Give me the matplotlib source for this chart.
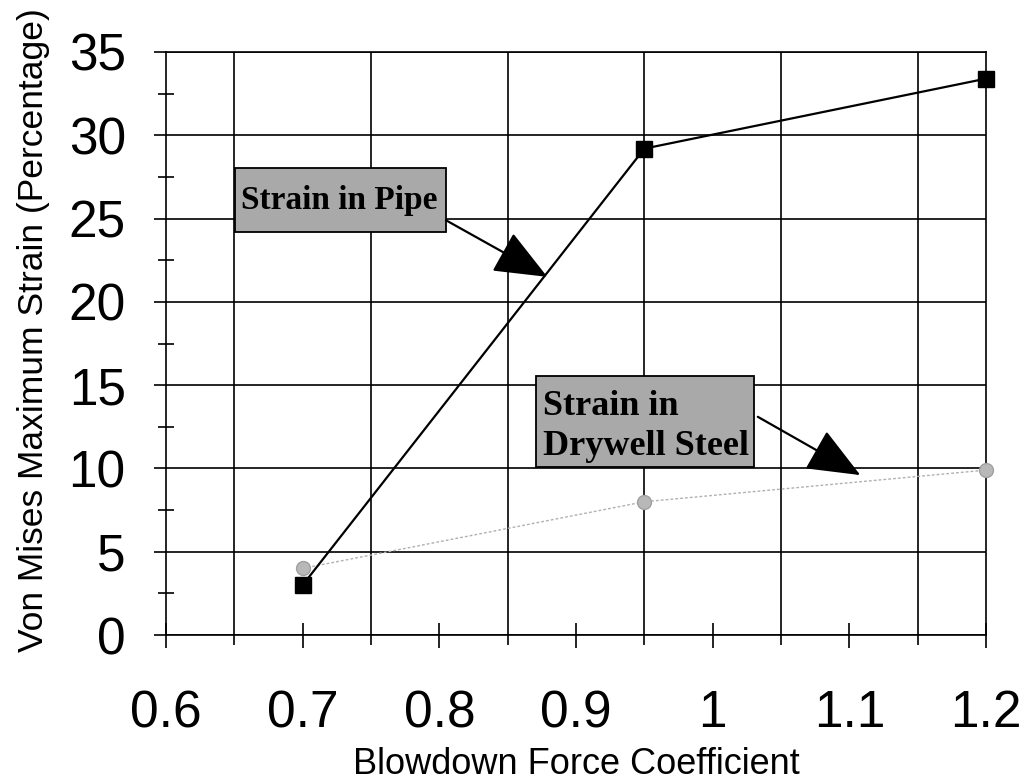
import matplotlib
matplotlib.use("Agg")
import matplotlib.pyplot as plt
from matplotlib.patches import Rectangle
from matplotlib.ticker import MultipleLocator

# data
coef = [0.7, 0.95, 1.2]
strain_pipe = [3.0, 29.2, 33.4]
strain_drywell = [4.0, 8.0, 9.9]

plt.rcParams["font.family"] = ["Liberation Sans", "DejaVu Sans"]

fig = plt.figure(figsize=(10.35, 7.83), dpi=100)
ax = fig.add_axes([0.1604, 0.189, 0.7923, 0.7446])

ax.plot(coef, strain_drywell, color="#b0b0b0", lw=1.0, ls=(0, (2, 1.5)),
        marker="o", ms=10, mfc="#b8b8b8", mec="#a0a0a0", zorder=3, clip_on=False)
ax.plot(coef, strain_pipe, color="black", lw=1.6, marker="s", ms=11.5,
        mfc="black", mec="black", zorder=4, clip_on=False)

ax.set_xlim(0.6, 1.2)
ax.set_ylim(0, 35)
ax.xaxis.set_minor_locator(MultipleLocator(0.05))
ax.yaxis.set_major_locator(MultipleLocator(5))
ax.yaxis.set_minor_locator(MultipleLocator(2.5))
ax.set_xticks([0.6, 0.7, 0.8, 0.9, 1.0, 1.1, 1.2])
ax.set_xticklabels(["0.6", "0.7", "0.8", "0.9", "1", "1.1", "1.2"])

ax.grid(which="minor", axis="x", color="black", lw=1.2)
ax.grid(which="major", axis="y", color="black", lw=1.2)

ax.tick_params(axis="x", which="major", direction="inout", length=18, width=1.2,
               labelsize=37, pad=30)
ax.tick_params(axis="x", which="minor", direction="out", length=7, width=1.2)
ax.tick_params(axis="y", which="major", direction="out", length=9, width=1.2,
               labelsize=37, pad=20)
ax.tick_params(axis="y", which="minor", direction="inout", length=12, width=1.2)

for s in ax.spines.values():
    s.set_linewidth(1.2)

ax.set_xlabel("Blowdown Force Coefficient", fontsize=26, labelpad=6)
ax.set_ylabel("Von Mises Maximum Strain (Percentage)", fontsize=25.5)
ax.yaxis.set_label_coords(-0.142, 0.523)

# callout boxes
ax.add_patch(Rectangle((0.6505, 24.2), 0.1543, 3.85, fc="#a9a9a9", ec="black",
                       lw=1.3, zorder=5))
ax.text(0.7266, 25.6, "Strain in Pipe", ha="center", va="baseline", fontsize=24,
        fontweight="bold", family="Liberation Serif", zorder=6)
ax.add_patch(Rectangle((0.8707, 10.08), 0.1595, 5.47, fc="#a9a9a9", ec="black",
                       lw=1.3, zorder=5))
ax.text(0.8758, 10.8, "Strain in\nDrywell Steel", ha="left", va="baseline",
        fontsize=26, fontweight="bold", family="Liberation Serif",
        linespacing=1.3, zorder=6)

arrow = dict(arrowstyle="-|>,head_length=1.2,head_width=0.5", mutation_scale=28,
             color="black", lw=1.6, shrinkA=0, shrinkB=0)
ax.annotate("", xy=(0.879, 21.5), xytext=(0.8048, 24.9), arrowprops=arrow,
            zorder=6)
ax.annotate("", xy=(1.108, 9.6), xytext=(1.033, 13.1), arrowprops=arrow,
            zorder=6)

fig.savefig("out.png", dpi=100)
